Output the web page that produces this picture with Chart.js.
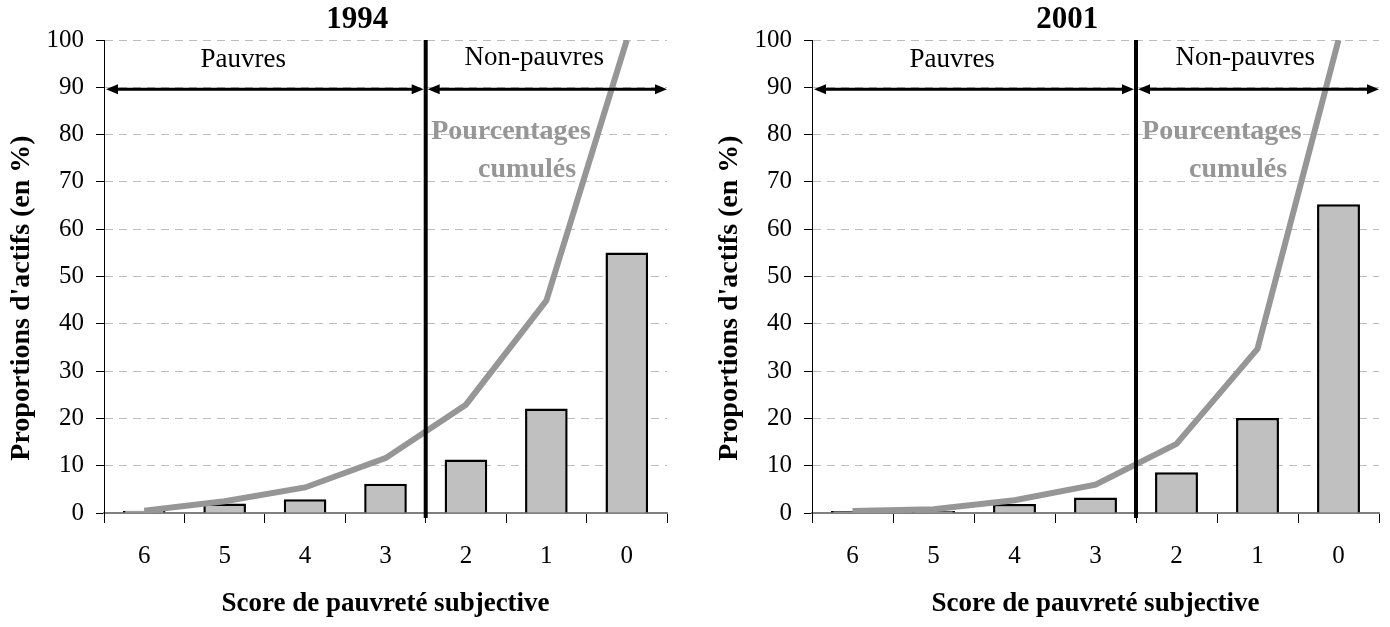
<!DOCTYPE html>
<html>
<head>
<meta charset="utf-8">
<script src="https://cdn.jsdelivr.net/npm/chart.js@4/dist/chart.umd.min.js"></script>
<style>
  body { margin:0; background:#fff; }
  #wrap { position:relative; width:1390px; height:627px; }
  canvas { position:absolute; top:0; }
</style>
</head>
<body>
<div id="wrap">
  <canvas id="c1994" width="705" height="627" style="left:0"></canvas>
  <canvas id="c2001" width="685" height="627" style="left:705px"></canvas>
</div>
<script>
// Données
const scores = ['6','5','4','3','2','1','0'];
const bars1994 = [0.5, 2.0, 2.9, 6.2, 11.3, 22.1, 55.1];
const cumul1994 = [0.5, 2.5, 5.4, 11.6, 22.9, 44.9, 100];
const bars2001 = [0.4, 0.4, 1.9, 3.3, 8.6, 20.1, 65.3];
const cumul2001 = [0.4, 0.8, 2.7, 6.0, 14.6, 34.7, 100];
const yTicks = [0, 10, 20, 30, 40, 50, 60, 70, 80, 90, 100];

const SERIF = "'Liberation Serif', 'Times New Roman', serif";

// annotations : ligne de seuil, flèches, libellés, titre
function annotations(title, yTitleX) {
  return {
    id: 'annot',
    afterDatasetsDraw(chart) {
      const ctx = chart.ctx, x = chart.scales.x, y = chart.scales.y, a = chart.chartArea;
      const cw = x.getPixelForValue(1) - x.getPixelForValue(0);
      const vx = (x.getPixelForValue(3) + x.getPixelForValue(4)) / 2;
      ctx.save();
      // seuil pauvres / non-pauvres
      ctx.strokeStyle = '#000'; ctx.lineWidth = 4;
      ctx.beginPath(); ctx.moveTo(vx, a.top); ctx.lineTo(vx, a.bottom + 5); ctx.stroke();
      // flèches
      const ay = y.getPixelForValue(89.6);
      const arrow = (x1, x2) => {
        ctx.lineWidth = 3;
        ctx.beginPath(); ctx.moveTo(x1 + 8, ay); ctx.lineTo(x2 - 8, ay); ctx.stroke();
        ctx.beginPath(); ctx.moveTo(x1, ay); ctx.lineTo(x1 + 12, ay - 5); ctx.lineTo(x1 + 12, ay + 5); ctx.closePath(); ctx.fill();
        ctx.beginPath(); ctx.moveTo(x2, ay); ctx.lineTo(x2 - 12, ay - 5); ctx.lineTo(x2 - 12, ay + 5); ctx.closePath(); ctx.fill();
      };
      ctx.fillStyle = '#000';
      arrow(a.left + 2, vx - 2);
      arrow(vx + 2, a.right);
      // textes
      ctx.textAlign = 'center'; ctx.textBaseline = 'middle';
      ctx.font = '27px ' + SERIF;
      ctx.fillText('Pauvres', x.getPixelForValue(1) + 0.23 * cw, y.getPixelForValue(95.8));
      ctx.fillText('Non-pauvres', x.getPixelForValue(4) + 0.85 * cw, y.getPixelForValue(96.2));
      ctx.fillStyle = '#969696';
      ctx.font = 'bold 28px ' + SERIF;
      ctx.fillText('Pourcentages', x.getPixelForValue(4) + 0.56 * cw, y.getPixelForValue(80.6));
      ctx.fillText('cumulés', x.getPixelForValue(4) + 0.76 * cw, y.getPixelForValue(72.5));
      // titre
      ctx.fillStyle = '#000';
      ctx.font = 'bold 31px ' + SERIF;
      ctx.fillText(title, x.getPixelForValue(2) + 0.65 * cw, 20);
      // titre de l'axe y
      ctx.font = 'bold 28px ' + SERIF;
      ctx.translate(yTitleX, 298);
      ctx.rotate(-Math.PI / 2);
      ctx.fillText("Proportions d'actifs (en %)", 0, 0);
      ctx.restore();
    }
  };
}

function makeChart(id, title, bars, cumul, yWidth, padRight, yTitleX) {
  return new Chart(document.getElementById(id), {
    data: {
      labels: scores,
      datasets: [
        { type:'line', data:cumul, borderColor:'#969696', borderWidth:6, pointRadius:0, tension:0, order:0 },
        { type:'bar', data:bars, backgroundColor:'#c0c0c0', borderColor:'#000', borderWidth:2.5,
          barPercentage:0.53, categoryPercentage:1, order:1 }
      ]
    },
    options: {
      responsive:false, animation:false,
      layout:{ padding:{ top:40, right:padRight, left:0, bottom:0 } },
      plugins:{ legend:{display:false}, tooltip:{enabled:false}, title:{display:false} },
      scales:{
        x:{
          offset:true,
          grid:{ offset:true, drawOnChartArea:false, drawTicks:true, tickLength:10, tickColor:'#000', tickWidth:1 },
          border:{ color:'#808080', width:2 },
          ticks:{ color:'#000', font:{ family:SERIF, size:25 }, padding:18 },
          title:{ display:true, text:'Score de pauvreté subjective', color:'#000',
                  font:{ family:SERIF, size:27, weight:'bold' }, padding:{ top:0, bottom:7 } },
          afterFit(s) { s.height = 114; }
        },
        y:{
          min:0, max:100,
          afterBuildTicks(s) { s.ticks = yTicks.map(v => ({ value:v })); },
          grid:{ color:'#bdbdbd', tickLength:8, tickColor:'#000', tickBorderDash:[] },
          border:{ color:'#000', width:1, dash:[8,6] },
          ticks:{ color:'#000', font:{ family:SERIF, size:25 }, padding:12 },
          afterFit(s) { s.width = yWidth; }
        }
      }
    },
    plugins:[ annotations(title, yTitleX) ]
  });
}

makeChart('c1994', '1994', bars1994, cumul1994, 104, 38, 22);
makeChart('c2001', '2001', bars2001, cumul2001, 107, 11, 25);
</script>
</body>
</html>
